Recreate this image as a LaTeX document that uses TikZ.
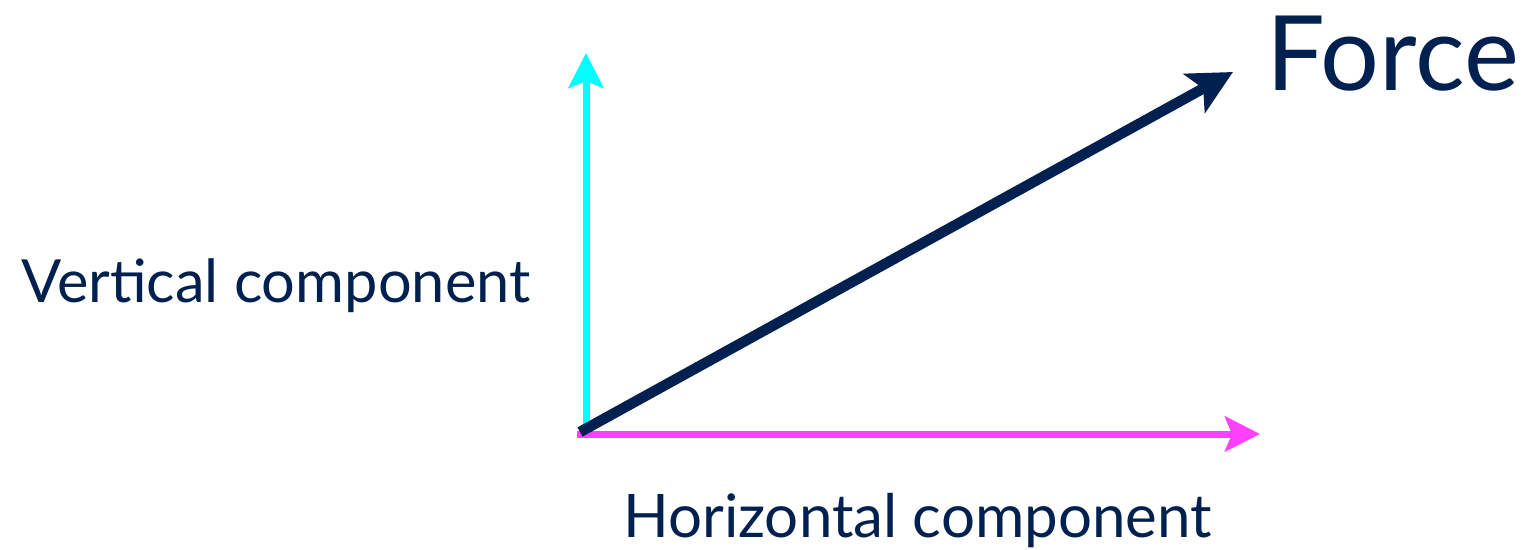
\documentclass[tikz,border=0pt]{standalone}
\usepackage{fontspec}
\setmainfont{Lato}
\usetikzlibrary{arrows.meta}
\definecolor{navy}{HTML}{00214F}
\definecolor{vcyan}{HTML}{00FFFF}
\definecolor{hmag}{HTML}{FF40FF}
\tikzset{
  lbl/.style={anchor=base west, inner sep=0pt, text=navy},
  comp/.style={line width=7pt, -{Stealth[length=35pt,width=35pt,inset=7pt]}},
  forcearrow/.style={line width=10.5pt, draw=navy, -{Stealth[length=44pt,width=44pt,inset=10pt]}}
}
\begin{document}
\begin{tikzpicture}[x=1pt,y=-1pt]
\useasboundingbox (0,0) rectangle (1529,549);
\coordinate (vbase) at (586,434);
\coordinate (vtip) at (586,53);
\coordinate (hbase) at (577,434);
\coordinate (htip) at (1260,434);
\coordinate (fbase) at (580,432);
\coordinate (ftip) at (1233,72);
\draw[comp, draw=vcyan] (vbase) -- (vtip);
\draw[comp, draw=hmag] (hbase) -- (htip);
\draw[forcearrow] (fbase) -- (ftip);
\node[lbl, font=\fontsize{104}{110}\selectfont] (force) at (1266,90) {Force};
\node[lbl, font=\fontsize{59.5}{64}\selectfont] (vert) at (21,302) {Vertical component};
\node[lbl, font=\fontsize{60}{64}\selectfont] (horiz) at (623,537) {Horizontal component};
\end{tikzpicture}
\end{document}
